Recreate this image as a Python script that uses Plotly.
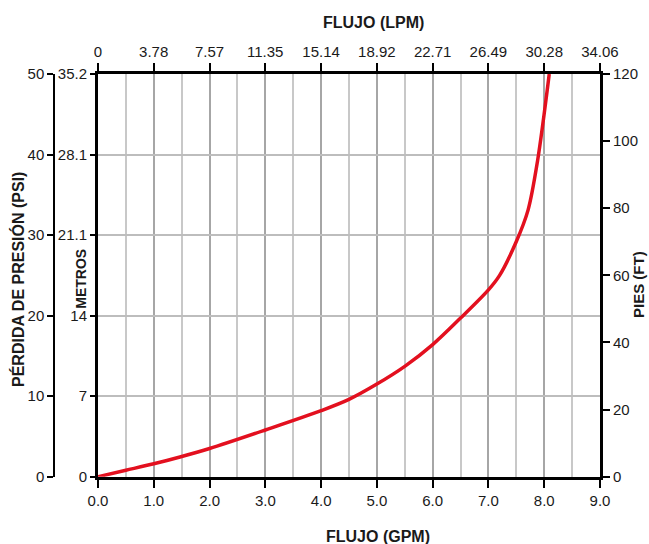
import plotly.graph_objects as go

# ---- data ----
gpm = [0.0, 0.5, 1.0, 1.47, 2.0, 3.0, 4.0, 4.5, 5.0, 5.5, 6.0, 6.5, 7.0, 7.2, 7.5, 7.71, 7.88, 8.09]
psi = [0.0, 0.8, 1.6, 2.45, 3.5, 5.8, 8.2, 9.6, 11.5, 13.7, 16.4, 19.7, 23.2, 25.0, 29.2, 33.1, 39.2, 50.0]

gpm_ticks = [0, 1, 2, 3, 4, 5, 6, 7, 8, 9]
gpm_labels = ["0.0", "1.0", "2.0", "3.0", "4.0", "5.0", "6.0", "7.0", "8.0", "9.0"]
lpm_ticks = [0, 3.78, 7.57, 11.35, 15.14, 18.92, 22.71, 26.49, 30.28, 34.06]
lpm_labels = ["0", "3.78", "7.57", "11.35", "15.14", "18.92", "22.71", "26.49", "30.28", "34.06"]
psi_ticks = [0, 10, 20, 30, 40, 50]
metros_labels = ["0", "7", "14", "21.1", "28.1", "35.2"]
pies_ticks = [0, 20, 40, 60, 80, 100, 120]

W, H = 649, 544
def px(x):
    return x / W
def py(y):
    return (H - y) / H

tickfont = dict(family="Liberation Sans, Arial", size=15, color="#1a1a1a")
titlefont = dict(family="Liberation Sans, Arial", size=16, color="#1a1a1a")

fig = go.Figure()
fig.add_trace(go.Scatter(x=gpm, y=psi, mode="lines",
                         line=dict(color="#e3101f", width=3.5, shape="spline", smoothing=0.9),
                         xaxis="x", yaxis="y", showlegend=False, hoverinfo="skip"))
# invisible anchors so the secondary axes are drawn
inv = dict(mode="markers", marker=dict(opacity=0), showlegend=False, hoverinfo="skip")
fig.add_trace(go.Scatter(x=[lpm_ticks[0]], y=[psi_ticks[0]], xaxis="x2", yaxis="y", **inv))
fig.add_trace(go.Scatter(x=[gpm_ticks[0]], y=[pies_ticks[0]], xaxis="x", yaxis="y2", **inv))
fig.add_trace(go.Scatter(x=[gpm_ticks[0]], y=[psi_ticks[0]], xaxis="x", yaxis="y3", **inv))

xdom = [px(98), px(600)]
ydom = [py(476.7), py(74)]

common = dict(ticks="outside", tickwidth=1.5, tickcolor="black", zeroline=False,
              tickfont=tickfont, automargin=False, fixedrange=True)

fig.update_layout(
    width=W, height=H,
    margin=dict(l=0, r=0, t=0, b=0, autoexpand=False),
    paper_bgcolor="white", plot_bgcolor="white",
    xaxis=dict(domain=xdom, range=[0, 9], tickvals=gpm_ticks, ticktext=gpm_labels, ticklen=8,
               showline=True, linecolor="black", linewidth=3,
               showgrid=True, gridcolor="#a6a6a6", gridwidth=1.5,
               minor=dict(dtick=0.5, tick0=0, showgrid=True, gridcolor="#c8c8c8", gridwidth=1.5, ticks=""),
               anchor="y", **common),
    xaxis2=dict(overlaying="x", side="top", range=[0, 9 * 3.785], tickvals=lpm_ticks, ticktext=lpm_labels,
                ticklen=8, showline=True, linecolor="black", linewidth=3,
                showgrid=False, anchor="y", **common),
    yaxis=dict(domain=ydom, range=[0, 50], tickvals=psi_ticks, ticktext=metros_labels, ticklen=5,
               showline=True, linecolor="black", linewidth=3,
               showgrid=True, gridcolor="#bdbdbd", gridwidth=1.5,
               anchor="x", **common),
    yaxis2=dict(overlaying="y", side="right", range=[0, 120], tickvals=pies_ticks, ticklen=7,
                showline=True, linecolor="black", linewidth=3,
                showgrid=False, anchor="x", **common),
    yaxis3=dict(overlaying="y", side="left", anchor="free", position=px(54),
                range=[0, 50], tickvals=psi_ticks, ticklen=6,
                showline=True, linecolor="black", linewidth=1.5,
                showgrid=False, **common),
)

ann = [
    dict(text="<b>FLUJO (LPM)</b>", x=px(373), y=py(23), textangle=0),
    dict(text="<b>FLUJO (GPM)</b>", x=px(378), y=py(536), textangle=0),
    dict(text="<b>PÉRDIDA DE PRESIÓN (PSI)</b>", x=px(18), y=py(280), textangle=-90),
    dict(text="<b>METROS</b>", x=px(80.7), y=py(279), textangle=-90, size=14),
    dict(text="<b>PIES (FT)</b>", x=px(638), y=py(285), textangle=-90, size=15),
]
for a in ann:
    f = dict(titlefont)
    if "size" in a:
        f["size"] = a.pop("size")
    fig.add_annotation(xref="paper", yref="paper", showarrow=False,
                       xanchor="center", yanchor="middle", font=f, **a)

fig.write_html("out.html", config={"displayModeBar": False},
               post_script="document.body.style.margin='0';document.body.style.overflow='hidden';")
